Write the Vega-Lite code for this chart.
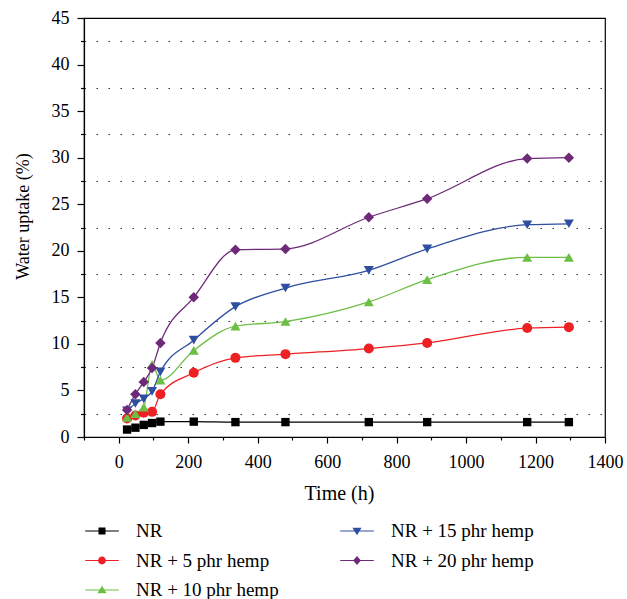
{
  "$schema": "https://vega.github.io/schema/vega-lite/v6.json",
  "autosize": {"type": "none"},
  "padding": {"left": 84, "top": 18, "right": 22, "bottom": 162},
  "width": 521,
  "height": 419,
  "background": "white",
  "config": {
    "font": "Liberation Serif",
    "view": {"stroke": "black", "strokeWidth": 1.2},
    "axis": {
      "labelFont": "Liberation Serif",
      "labelFontSize": 18,
      "labelColor": "black",
      "titleFont": "Liberation Serif",
      "titleFontSize": 18,
      "titleFontWeight": "normal",
      "titleColor": "black",
      "domainColor": "black",
      "domainWidth": 1.2,
      "tickColor": "black",
      "tickWidth": 1.2
    }
  },
  "datasets": {
    "uptake": [
      {"series": "NR", "time": 24, "uptake": 0.8},
      {"series": "NR", "time": 48, "uptake": 1.0},
      {"series": "NR", "time": 72, "uptake": 1.3},
      {"series": "NR", "time": 96, "uptake": 1.5},
      {"series": "NR", "time": 120, "uptake": 1.65},
      {"series": "NR", "time": 216, "uptake": 1.65},
      {"series": "NR", "time": 336, "uptake": 1.6},
      {"series": "NR", "time": 480, "uptake": 1.6},
      {"series": "NR", "time": 720, "uptake": 1.6},
      {"series": "NR", "time": 888, "uptake": 1.6},
      {"series": "NR", "time": 1176, "uptake": 1.6},
      {"series": "NR", "time": 1296, "uptake": 1.6},
      {"series": "NR + 5 phr hemp", "time": 24, "uptake": 2.0},
      {"series": "NR + 5 phr hemp", "time": 48, "uptake": 2.3},
      {"series": "NR + 5 phr hemp", "time": 72, "uptake": 2.6},
      {"series": "NR + 5 phr hemp", "time": 96, "uptake": 2.7},
      {"series": "NR + 5 phr hemp", "time": 120, "uptake": 4.6},
      {"series": "NR + 5 phr hemp", "time": 216, "uptake": 6.9},
      {"series": "NR + 5 phr hemp", "time": 336, "uptake": 8.5},
      {"series": "NR + 5 phr hemp", "time": 480, "uptake": 8.9},
      {"series": "NR + 5 phr hemp", "time": 720, "uptake": 9.5},
      {"series": "NR + 5 phr hemp", "time": 888, "uptake": 10.1},
      {"series": "NR + 5 phr hemp", "time": 1176, "uptake": 11.7},
      {"series": "NR + 5 phr hemp", "time": 1296, "uptake": 11.8},
      {"series": "NR + 10 phr hemp", "time": 24, "uptake": 2.1},
      {"series": "NR + 10 phr hemp", "time": 48, "uptake": 2.5},
      {"series": "NR + 10 phr hemp", "time": 72, "uptake": 3.2},
      {"series": "NR + 10 phr hemp", "time": 96, "uptake": 7.8},
      {"series": "NR + 10 phr hemp", "time": 120, "uptake": 6.1},
      {"series": "NR + 10 phr hemp", "time": 216, "uptake": 9.3},
      {"series": "NR + 10 phr hemp", "time": 336, "uptake": 11.9},
      {"series": "NR + 10 phr hemp", "time": 480, "uptake": 12.4},
      {"series": "NR + 10 phr hemp", "time": 720, "uptake": 14.5},
      {"series": "NR + 10 phr hemp", "time": 888, "uptake": 16.9},
      {"series": "NR + 10 phr hemp", "time": 1176, "uptake": 19.3},
      {"series": "NR + 10 phr hemp", "time": 1296, "uptake": 19.3},
      {"series": "NR + 15 phr hemp", "time": 24, "uptake": 2.8},
      {"series": "NR + 15 phr hemp", "time": 48, "uptake": 3.6},
      {"series": "NR + 15 phr hemp", "time": 72, "uptake": 4.1},
      {"series": "NR + 15 phr hemp", "time": 96, "uptake": 4.9},
      {"series": "NR + 15 phr hemp", "time": 120, "uptake": 7.0},
      {"series": "NR + 15 phr hemp", "time": 216, "uptake": 10.4},
      {"series": "NR + 15 phr hemp", "time": 336, "uptake": 14.0},
      {"series": "NR + 15 phr hemp", "time": 480, "uptake": 16.0},
      {"series": "NR + 15 phr hemp", "time": 720, "uptake": 17.9},
      {"series": "NR + 15 phr hemp", "time": 888, "uptake": 20.2},
      {"series": "NR + 15 phr hemp", "time": 1176, "uptake": 22.8},
      {"series": "NR + 15 phr hemp", "time": 1296, "uptake": 22.9},
      {"series": "NR + 20 phr hemp", "time": 24, "uptake": 2.9},
      {"series": "NR + 20 phr hemp", "time": 48, "uptake": 4.6},
      {"series": "NR + 20 phr hemp", "time": 72, "uptake": 5.9},
      {"series": "NR + 20 phr hemp", "time": 96, "uptake": 7.4},
      {"series": "NR + 20 phr hemp", "time": 120, "uptake": 10.1},
      {"series": "NR + 20 phr hemp", "time": 216, "uptake": 15.0},
      {"series": "NR + 20 phr hemp", "time": 336, "uptake": 20.1},
      {"series": "NR + 20 phr hemp", "time": 480, "uptake": 20.2},
      {"series": "NR + 20 phr hemp", "time": 720, "uptake": 23.6},
      {"series": "NR + 20 phr hemp", "time": 888, "uptake": 25.6},
      {"series": "NR + 20 phr hemp", "time": 1176, "uptake": 29.9},
      {"series": "NR + 20 phr hemp", "time": 1296, "uptake": 30.0}
    ]
  },
  "data": {"name": "uptake"},
  "encoding": {
    "x": {
      "field": "time",
      "type": "quantitative",
      "scale": {"domain": [-100, 1400], "nice": false, "zero": false},
      "axis": {
        "title": "Time (h)",
        "titleFontSize": 20,
        "values": [-100, 0, 100, 200, 300, 400, 500, 600, 700, 800, 900, 1000, 1100, 1200, 1300, 1400],
        "format": "d",
        "labelExpr": "datum.value >= 0 && datum.value % 200 === 0 ? datum.label : ''",
        "tickSize": {"condition": {"test": "datum.value % 200 === 0", "value": 6}, "value": 3},
        "labelPadding": 10,
        "labelFlush": false,
        "labelOverlap": false,
        "grid": false,
        "titleX": 255,
        "titleY": 62,
        "titleAlign": "center",
        "titleBaseline": "alphabetic"
      }
    },
    "y": {
      "field": "uptake",
      "type": "quantitative",
      "scale": {"domain": [0, 45], "nice": false},
      "axis": {
        "title": "Water uptake (%)",
        "values": [0, 2.5, 5, 7.5, 10, 12.5, 15, 17.5, 20, 22.5, 25, 27.5, 30, 32.5, 35, 37.5, 40, 42.5, 45],
        "labelExpr": "datum.value % 5 === 0 ? datum.label : ''",
        "tickSize": {"condition": {"test": "datum.value % 5 === 0", "value": 7}, "value": 3.5},
        "labelPadding": 8,
        "labelFlush": false,
        "labelOverlap": false,
        "grid": true,
        "gridColor": "#222222",
        "gridWidth": 1.2,
        "gridDash": [1.4, 10.6],
        "gridOpacity": {"condition": {"test": "datum.value % 5 !== 0", "value": 1}, "value": 0},
        "titleX": -61,
        "titleY": 198,
        "titleAngle": -90,
        "titleAlign": "center",
        "titleBaseline": "middle"
      }
    },
    "color": {
      "field": "series",
      "type": "nominal",
      "scale": {
        "domain": ["NR", "NR + 5 phr hemp", "NR + 10 phr hemp", "NR + 15 phr hemp", "NR + 20 phr hemp"],
        "range": ["#000000", "#ED2024", "#6CBE45", "#2E4FA0", "#6E2A78"]
      },
      "legend": {
        "title": null,
        "orient": "none",
        "legendX": 4,
        "legendY": 499,
        "columns": 2,
        "columnPadding": 61,
        "rowPadding": 5.5,
        "symbolSize": 784,
        "symbolStrokeWidth": 0,
        "symbolOpacity": 1,
        "labelFont": "Liberation Serif",
        "labelFontSize": 19,
        "labelColor": "black",
        "labelOffset": 20,
        "labelLimit": 300
      }
    }
  },
  "layer": [
    {
      "mark": {"type": "line", "interpolate": "monotone", "strokeWidth": 1.3},
      "encoding": {
        "detail": {"field": "series"}
      }
    },
    {
      "description": "Key entries only: a short line with the series marker drawn through it.",
      "transform": [{"filter": "false"}],
      "mark": {"type": "point", "filled": true, "opacity": 1, "size": 784},
      "encoding": {
        "shape": {
          "field": "series",
          "type": "nominal",
          "scale": {
            "domain": ["NR", "NR + 5 phr hemp", "NR + 10 phr hemp", "NR + 15 phr hemp", "NR + 20 phr hemp"],
            "range": [
              "M-1.2,-0.04H1.2V0.04H-1.2Z M-0.25,-0.25H0.25V0.25H-0.25Z",
              "M-1.2,-0.04H1.2V0.04H-1.2Z M-0.28,0A0.28,0.28,0,1,1,0.28,0A0.28,0.28,0,1,1,-0.28,0Z",
              "M-1.2,-0.04H1.2V0.04H-1.2Z M0,-0.3L0.33,0.24H-0.33Z",
              "M-1.2,-0.04H1.2V0.04H-1.2Z M0,0.3L-0.33,-0.24H0.33Z",
              "M-1.2,-0.04H1.2V0.04H-1.2Z M0,-0.32L0.28,0L0,0.32L-0.28,0Z"
            ]
          }
        }
      }
    },
    {
      "transform": [{"filter": "datum.series === 'NR'"}],
      "mark": {"type": "point", "shape": "square", "filled": true, "opacity": 1, "size": 70}
    },
    {
      "transform": [{"filter": "datum.series === 'NR + 5 phr hemp'"}],
      "mark": {"type": "point", "shape": "circle", "filled": true, "opacity": 1, "size": 100}
    },
    {
      "transform": [{"filter": "datum.series === 'NR + 10 phr hemp'"}],
      "mark": {"type": "point", "shape": "triangle-up", "filled": true, "opacity": 1, "size": 100}
    },
    {
      "transform": [{"filter": "datum.series === 'NR + 15 phr hemp'"}],
      "mark": {"type": "point", "shape": "triangle-down", "filled": true, "opacity": 1, "size": 100}
    },
    {
      "transform": [{"filter": "datum.series === 'NR + 20 phr hemp'"}],
      "mark": {"type": "point", "shape": "diamond", "filled": true, "opacity": 1, "size": 110}
    }
  ]
}
